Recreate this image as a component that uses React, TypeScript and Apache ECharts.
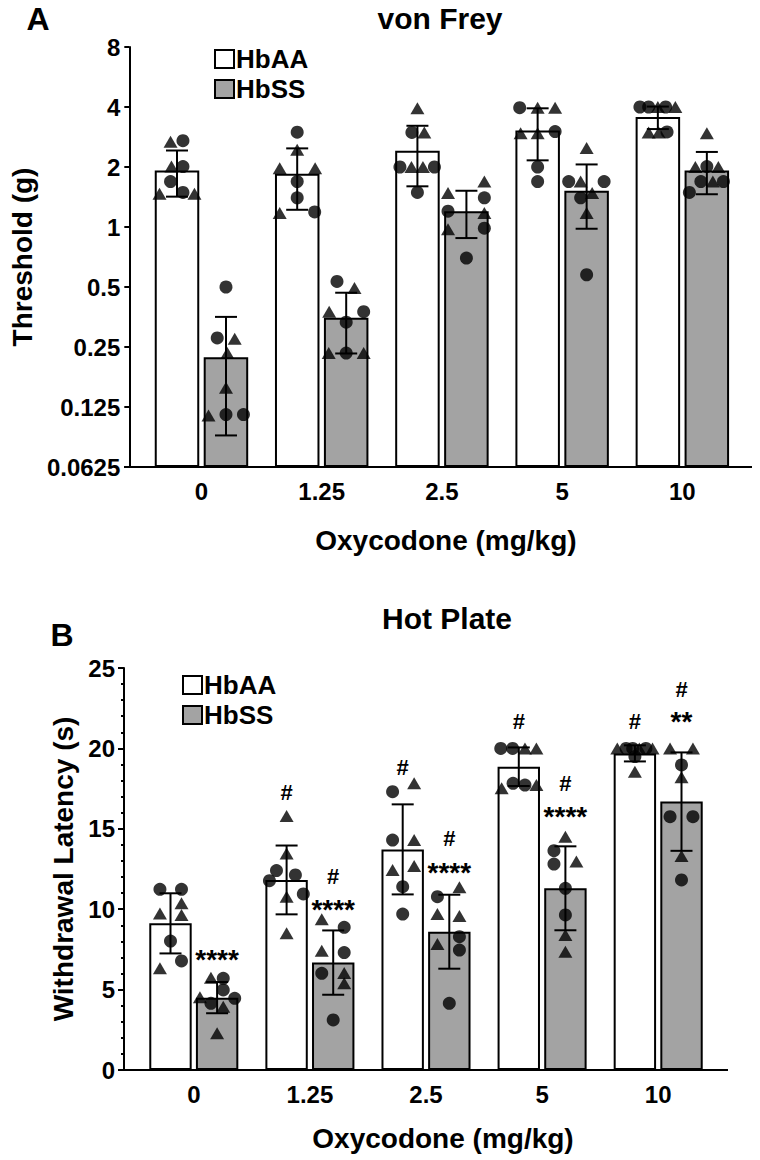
import { useEffect, useRef } from 'react';
import * as echarts from 'echarts';

const FONT = "'Liberation Sans', Arial, Helvetica, sans-serif";

// ---------- shared categories ----------
const doses = ['0', '1.25', '2.5', '5', '10'];
const groupNames = ['HbAA', 'HbSS'];
const yTicksA = ['0.0625', '0.125', '0.25', '0.5', '1', '2', '4', '8'];
const yTicksB = ['0', '5', '10', '15', '20', '25'];

// ---------- Panel A: von Frey threshold (g) ----------
const vfMeanAA = [1.92, 1.85, 2.41, 3.05, 3.56];
const vfSdAA = [0.5, 0.63, 0.81, 0.89, 0.46];
const vfMeanSS = [0.222, 0.35, 1.2, 1.52, 1.92];
const vfSdSS = [0.132, 0.118, 0.32, 0.54, 0.46];

// individual animals: [value, shape (c = circle, t = triangle), jitter as fraction of bar width]
type Pt = [number, string, number];
const vfPtsAA: Pt[][] = [
  [[2.68, 't', -0.14], [2.71, 'c', 0.13], [2.01, 't', -0.12], [2.01, 'c', 0.13], [1.69, 'c', -0.14], [1.47, 't', -0.38], [1.49, 'c', 0.13], [1.47, 't', 0.38]],
  [[2.99, 'c', 0], [2.44, 't', 0], [1.97, 't', -0.38], [1.97, 't', 0.39], [1.69, 'c', 0], [1.4, 'c', 0], [1.175, 't', -0.38], [1.19, 'c', 0.38]],
  [[3.94, 't', 0], [2.98, 'c', -0.12], [2.98, 't', 0.15], [2.0, 'c', -0.38], [2.0, 't', -0.13], [2.0, 't', 0.12], [2.0, 'c', 0.37], [1.49, 'c', 0]],
  [[3.97, 'c', -0.39], [3.97, 't', 0], [3.97, 't', 0.38], [2.95, 't', -0.37], [2.95, 't', 0], [3.01, 'c', 0.38], [2.0, 'c', 0], [1.69, 'c', 0]],
  [[4.0, 'c', -0.39], [4.0, 'c', -0.2], [4.0, 't', 0], [4.0, 'c', 0.17], [4.0, 't', 0.38], [2.98, 't', -0.2], [2.98, 't', 0.02], [3.0, 'c', 0.2]],
];
const vfPtsSS: Pt[][] = [
  [[0.5, 'c', 0], [0.2775, 'c', -0.19], [0.275, 't', 0.19], [0.233, 't', 0.03], [0.156, 't', 0], [0.1132, 't', -0.38], [0.1145, 'c', 0], [0.1145, 'c', 0.38]],
  [[0.533, 'c', -0.2], [0.494, 't', 0.18], [0.376, 't', -0.37], [0.376, 'c', 0.38], [0.333, 'c', 0], [0.233, 't', -0.38], [0.233, 'c', 0], [0.233, 't', 0.38]],
  [[1.48, 't', -0.4], [1.2, 'c', -0.4], [0.975, 't', -0.4], [1.69, 't', 0.39], [1.4, 'c', 0.39], [1.175, 't', 0.39], [0.987, 'c', 0.39], [0.698, 'c', 0]],
  [[2.49, 't', 0], [1.69, 'c', -0.39], [1.69, 't', -0.13], [1.69, 'c', 0.38], [1.48, 't', 0.12], [1.4, 'c', -0.13], [1.175, 't', 0], [0.576, 'c', 0]],
  [[2.95, 't', 0], [2.0, 't', -0.25], [2.01, 'c', 0], [2.0, 't', 0.25], [1.69, 'c', -0.13], [1.69, 't', 0.13], [1.69, 'c', 0.36], [1.49, 'c', -0.38]],
];

// ---------- Panel B: hot plate withdrawal latency (s) ----------
const hpMeanAA = [9.12, 11.82, 13.72, 18.86, 19.69];
const hpSdAA = [1.87, 2.14, 2.8, 1.2, 0.5];
const hpMeanSS = [4.5, 6.68, 8.6, 11.3, 16.69];
const hpSdSS = [0.97, 2.0, 2.3, 2.61, 3.06];

const hpPtsAA: Pt[][] = [
  [[11.24, 'c', -0.24], [11.24, 'c', 0.25], [10.37, 't', 0.25], [9.74, 't', -0.24], [9.64, 't', 0.25], [8.02, 'c', 0], [6.32, 't', -0.24], [6.78, 'c', 0.25]],
  [[15.8, 't', 0], [13.47, 't', 0], [12.4, 'c', -0.23], [12.13, 'c', 0.2], [11.77, 'c', -0.39], [10.78, 't', 0], [10.95, 'c', 0.38], [8.5, 't', 0]],
  [[17.31, 'c', -0.23], [17.83, 't', 0.26], [14.3, 'c', -0.23], [14.3, 't', 0.26], [12.44, 't', -0.23], [12.69, 't', 0.26], [11.4, 'c', 0], [9.7, 'c', 0]],
  [[20, 'c', -0.41], [20, 'c', -0.14], [20, 't', 0.14], [20, 't', 0.4], [17.83, 'c', -0.13], [17.72, 'c', 0.14], [17.52, 't', -0.39], [17.72, 't', 0.4]],
  [[20, 't', -0.4], [20, 'c', -0.2], [20, 'c', -0.05], [20, 't', 0.1], [20, 'c', 0.25], [20, 't', 0.4], [19.49, 'c', 0], [18.55, 't', 0]],
];
const hpPtsSS: Pt[][] = [
  [[5.74, 't', -0.14], [5.7, 'c', 0.14], [4.98, 'c', 0.14], [4.52, 't', -0.39], [4.15, 'c', -0.14], [3.94, 't', 0.14], [4.46, 'c', 0.4], [2.28, 't', 0]],
  [[9.37, 't', -0.26], [8.87, 'c', 0.25], [7.42, 't', -0.26], [7.3, 'c', 0.25], [6.01, 'c', -0.26], [6.03, 't', 0.25], [5.39, 't', 0.25], [3.11, 'c', 0]],
  [[11.36, 't', 0.23], [10.78, 'c', -0.27], [9.7, 't', -0.27], [9.58, 't', 0.23], [8.29, 'c', 0.23], [7.84, 't', -0.27], [7.46, 'c', 0.23], [4.15, 'c', 0]],
  [[14.51, 't', 0], [13.64, 'c', -0.26], [12.81, 'c', -0.26], [12.96, 't', 0.25], [11.3, 'c', 0], [9.64, 'c', 0], [8.4, 't', 0], [7.36, 't', 0]],
  [[20, 't', -0.26], [20, 't', 0.26], [18.97, 'c', 0], [18.2, 't', 0], [15.75, 'c', -0.26], [15.75, 'c', 0.26], [13.31, 't', 0], [11.82, 'c', 0]],
];

// significance marks: dose index, group index (0 HbAA, 1 HbSS), height (s)
const hpMarkDose = [0, 1, 1, 1, 2, 2, 2, 3, 3, 3, 4, 4, 4];
const hpMarkGroup = [1, 0, 1, 1, 0, 1, 1, 0, 1, 1, 0, 1, 1];
const hpMarkLevel = [7.28, 17.23, 12.02, 10.39, 18.82, 14.41, 12.71, 21.66, 17.83, 16.17, 21.66, 23.68, 22.08];
const hpMarkText = ['****', '#', '#', '****', '#', '#', '****', '#', '#', '****', '#', '#', '**'];

// ---------- styling ----------
const barColors = ['#ffffff', '#a3a3a3'];
const PANELS = [
  { barW: 44.5, outerW: 46, off: 24.5 },
  { barW: 42.4, outerW: 44, off: 23.3 },
];
const CAP = 11;

function panelSeries(p: number, means: number[][], sds: number[][], pts: Pt[][][]) {
  const cfg = PANELS[p];
  const series: any[] = [];
  for (let g = 0; g < 2; g++) {
    series.push({
      type: 'bar',
      name: groupNames[g],
      xAxisIndex: p,
      yAxisIndex: p,
      data: means[g],
      barWidth: cfg.barW,
      barGap: '10%',
      silent: true,
      z: 2,
      itemStyle: { color: barColors[g], borderColor: '#000', borderWidth: 2 },
    });
  }
  for (let g = 0; g < 2; g++) {
    const side = g === 0 ? -1 : 1;
    series.push({
      type: 'custom',
      name: 'sd' + g,
      xAxisIndex: p,
      yAxisIndex: p,
      silent: true,
      z: 3,
      encode: { x: 0, y: 1 },
      data: means[g].map((m, i) => [i, m, sds[g][i]]),
      renderItem: (params: any, api: any) => {
        const i = api.value(0);
        const m = api.value(1);
        const s = api.value(2);
        const top = api.coord([i, m + s]);
        const bot = api.coord([i, m - s]);
        const x = top[0] + side * cfg.off;
        const st = { stroke: '#000', lineWidth: 2 };
        return {
          type: 'group',
          children: [
            { type: 'line', shape: { x1: x, y1: top[1], x2: x, y2: bot[1] }, style: st },
            { type: 'line', shape: { x1: x - CAP, y1: top[1], x2: x + CAP, y2: top[1] }, style: st },
            { type: 'line', shape: { x1: x - CAP, y1: bot[1], x2: x + CAP, y2: bot[1] }, style: st },
          ],
        };
      },
    });
    series.push({
      type: 'scatter',
      name: 'pts' + g,
      xAxisIndex: p,
      yAxisIndex: p,
      silent: true,
      z: 4,
      itemStyle: { color: '#000' },
      data: pts[g].flatMap((grp, i) =>
        grp.map(([v, s, j]) => ({
          value: [i, v],
          symbol: s === 'c' ? 'circle' : 'triangle',
          symbolSize: s === 'c' ? 13 : [14, 12],
          symbolOffset: [side * cfg.off + j * cfg.outerW, 0],
        }))
      ),
    });
  }
  return series;
}

const axisLabelStyle = { color: '#000', fontSize: 24, fontWeight: 'bold', fontFamily: FONT };
const nameStyle = { color: '#000', fontSize: 28, fontWeight: 'bold', fontFamily: FONT };
const blackLine = { color: '#000', width: 2 };

function txt(text: string, x: number, y: number, size: number) {
  return {
    type: 'text',
    x,
    y,
    style: {
      text,
      fill: '#000',
      font: `bold ${size}px ${FONT}`,
      align: 'center',
      verticalAlign: 'middle',
      textAlign: 'center',
      textVerticalAlign: 'middle',
    },
  };
}

export default function App() {
  const ref = useRef<HTMLDivElement>(null);
  useEffect(() => {
    if (!ref.current) return;
    const chart = echarts.init(ref.current, undefined, { renderer: 'svg' });
    const legendBase = {
      orient: 'vertical',
      itemWidth: 19,
      itemHeight: 18,
      itemGap: 4,
      padding: 0,
      icon: 'rect',
      selectedMode: false,
      data: groupNames,
      textStyle: { color: '#000', fontSize: 26, fontWeight: 'bold', fontFamily: FONT, lineHeight: 21, padding: [0, 0, 0, -3] },
    };
    const option: any = {
      animation: false,
      backgroundColor: '#fff',
      grid: [
        { left: 136.06, top: 47, width: 606.4, height: 420 },
        { left: 135.75, top: 668, width: 580.5, height: 402 },
      ],
      legend: [
        { ...legendBase, left: 214, top: 46 },
        { ...legendBase, left: 182, top: 672 },
      ],
      xAxis: [0, 1].map((p) => ({
        type: 'category',
        gridIndex: p,
        data: doses,
        axisLine: { show: false },
        axisTick: { show: false },
        axisLabel: { ...axisLabelStyle, margin: 12 },
        name: 'Oxycodone (mg/kg)',
        nameLocation: 'middle',
        nameGap: p === 0 ? 59 : 54,
        nameTextStyle: { ...nameStyle, padding: p === 0 ? [0, 0, 0, 8] : [0, 0, 0, 34] },
      })),
      yAxis: [
        {
          type: 'log',
          logBase: 2,
          gridIndex: 0,
          min: 0.0625,
          max: 8,
          splitNumber: 7,
          startValue: 0.0625,
          offset: 12.06,
          axisLine: { show: true, lineStyle: blackLine },
          axisTick: { show: true, length: 5, lineStyle: blackLine },
          splitLine: { show: false },
          axisLabel: {
            ...axisLabelStyle,
            margin: 9,
            formatter: (v: number) => yTicksA.find((t) => Math.abs(Number(t) - v) < 1e-6) ?? '',
          },
          name: 'Threshold (g)',
          nameLocation: 'middle',
          nameGap: 87,
          nameRotate: 90,
          nameTextStyle: nameStyle,
        },
        {
          type: 'value',
          gridIndex: 1,
          min: 0,
          max: 25,
          interval: 5,
          offset: 11.75,
          axisLine: { show: true, lineStyle: blackLine },
          axisTick: { show: true, length: 6, lineStyle: blackLine },
          minorTick: { show: true, splitNumber: 5, length: 3, lineStyle: blackLine },
          splitLine: { show: false },
          axisLabel: {
            ...axisLabelStyle,
            margin: 9,
            formatter: (v: number) => yTicksB.find((t) => Number(t) === v) ?? '',
          },
          name: 'Withdrawal Latency (s)',
          nameLocation: 'middle',
          nameGap: 45,
          nameRotate: 90,
          nameTextStyle: nameStyle,
        },
      ],
      graphic: [
        { type: 'line', shape: { x1: 124, y1: 467, x2: 752, y2: 467 }, style: { stroke: '#000', lineWidth: 2 } },
        { type: 'line', shape: { x1: 124, y1: 1070, x2: 728, y2: 1070 }, style: { stroke: '#000', lineWidth: 2 } },
        txt('A', 38, 19, 32),
        txt('von Frey', 440, 18, 30),
        txt('B', 62, 635, 32),
        txt('Hot Plate', 447, 618, 30),
      ],
      series: [
        ...panelSeries(0, [vfMeanAA, vfMeanSS], [vfSdAA, vfSdSS], [vfPtsAA, vfPtsSS]),
        ...panelSeries(1, [hpMeanAA, hpMeanSS], [hpSdAA, hpSdSS], [hpPtsAA, hpPtsSS]),
        {
          type: 'custom',
          name: 'marks',
          xAxisIndex: 1,
          yAxisIndex: 1,
          silent: true,
          z: 5,
          encode: { x: 0, y: 1 },
          data: hpMarkLevel.map((lv, k) => [hpMarkDose[k], lv, hpMarkGroup[k]]),
          renderItem: (params: any, api: any) => {
            const t = hpMarkText[params.dataIndex];
            const c = api.coord([api.value(0), api.value(1)]);
            const side = api.value(2) === 0 ? -1 : 1;
            const star = t.charAt(0) === '*';
            return {
              type: 'text',
              x: c[0] + side * PANELS[1].off,
              y: c[1] + (star ? 7 : 0),
              style: {
                text: t,
                fill: '#000',
                font: `bold ${star ? 28 : 22}px ${FONT}`,
                align: 'center',
                verticalAlign: 'middle',
                textAlign: 'center',
                textVerticalAlign: 'middle',
              },
            };
          },
        },
      ],
    };
    chart.setOption(option);
    return () => chart.dispose();
  }, []);
  return <div ref={ref} style={{ position: 'absolute', left: 0, top: 0, width: 760, height: 1160 }} />;
}
